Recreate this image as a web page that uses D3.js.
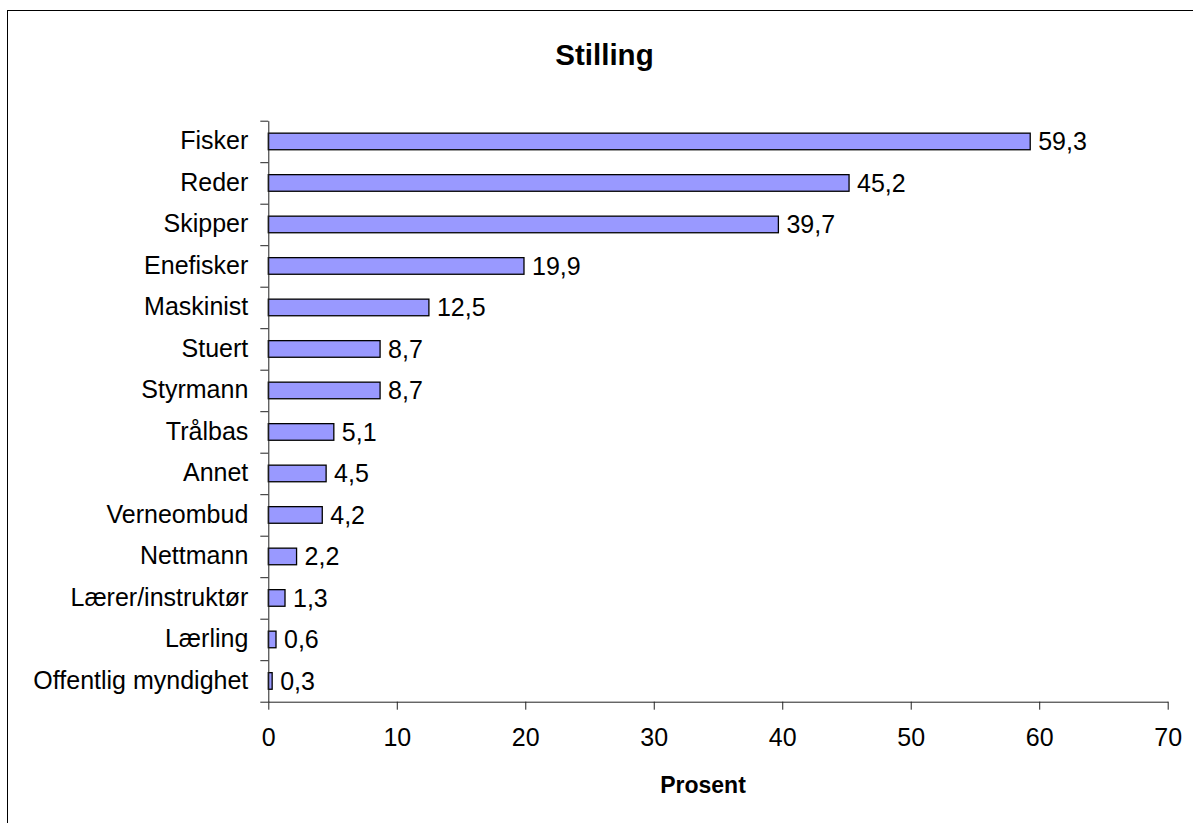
<!DOCTYPE html>
<html>
<head>
<meta charset="utf-8">
<script src="https://cdn.jsdelivr.net/npm/d3@7"></script>
<style>
  body { margin: 0; background: #fff; }
  svg { font-family: "Liberation Sans", Arial, sans-serif; }
</style>
</head>
<body>
<div id="chart"></div>
<script>
// Chart data
var categories = ["Fisker", "Reder", "Skipper", "Enefisker", "Maskinist", "Stuert", "Styrmann",
  "Trålbas", "Annet", "Verneombud", "Nettmann", "Lærer/instruktør", "Lærling", "Offentlig myndighet"];
var values = [59.3, 45.2, 39.7, 19.9, 12.5, 8.7, 8.7, 5.1, 4.5, 4.2, 2.2, 1.3, 0.6, 0.3];
var xTicks = [0, 10, 20, 30, 40, 50, 60, 70];

var data = categories.map(function (c, i) {
  return { name: c, value: values[i] };
});

var W = 1193, H = 823;
var margin = { top: 120.7, right: 25.3, bottom: 121.3, left: 268.3 },
  width = W - margin.left - margin.right,
  height = H - margin.top - margin.bottom;

var svg = d3.select("#chart").append("svg")
  .attr("width", W)
  .attr("height", H);

// Outer chart border
svg.append("rect")
  .attr("x", 7.5).attr("y", 10.5)
  .attr("width", 1200).attr("height", 830)
  .attr("fill", "none")
  .attr("stroke", "#000")
  .attr("stroke-width", 1);

var g = svg.append("g")
  .attr("transform", "translate(" + margin.left + "," + margin.top + ")");

// Scales
var x = d3.scaleLinear().domain([0, 70]).range([0, width]);
var y = d3.scaleBand().domain(categories).range([0, height]).paddingInner(0.6).paddingOuter(0.3);
var yEdge = d3.scaleLinear().domain([0, categories.length]).range([0, height]);

// Bars
g.selectAll(".bar")
  .data(data)
  .enter().append("rect")
  .attr("class", "bar")
  .attr("x", x(0))
  .attr("y", function (d) { return y(d.name); })
  .attr("width", function (d) { return x(d.value) - x(0); })
  .attr("height", y.bandwidth())
  .attr("fill", "#9999ff")
  .attr("stroke", "#000")
  .attr("stroke-width", 1.3);

// Value labels
g.selectAll(".val")
  .data(data)
  .enter().append("text")
  .attr("x", function (d) { return x(d.value) + 8; })
  .attr("y", function (d) { return y(d.name) + y.bandwidth() / 2; })
  .attr("dy", "0.36em")
  .style("font-size", "25px")
  .attr("fill", "#000")
  .text(function (d) { return d3.format(".1f")(d.value).replace(".", ","); });

// X axis
var xaxis = g.append("g")
  .attr("transform", "translate(0," + height + ")")
  .call(d3.axisBottom(x).tickValues(xTicks).tickSize(8).tickPadding(19).tickSizeOuter(0));
xaxis.selectAll("text").style("font-size", "25px").attr("fill", "#000");
xaxis.selectAll("line, path").attr("stroke", "#222");

// Y axis: labels at band centres, ticks at band edges
var yaxis = g.append("g")
  .call(d3.axisLeft(y).tickSize(0).tickPadding(20));
yaxis.selectAll("text").style("font-size", "25px").attr("fill", "#000");
yaxis.select(".domain").attr("stroke", "#222");

g.append("g")
  .call(d3.axisLeft(yEdge).ticks(categories.length).tickSize(8).tickFormat(""))
  .call(function (s) { s.select(".domain").remove(); })
  .selectAll("line").attr("stroke", "#222");

// Title
svg.append("text")
  .attr("x", 604.5)
  .attr("y", 65)
  .attr("text-anchor", "middle")
  .style("font-size", "29.5px")
  .style("font-weight", "bold")
  .text("Stilling");

// X label
svg.append("text")
  .attr("x", 703)
  .attr("y", 793)
  .attr("text-anchor", "middle")
  .style("font-size", "23px")
  .style("font-weight", "bold")
  .text("Prosent");
</script>
</body>
</html>
